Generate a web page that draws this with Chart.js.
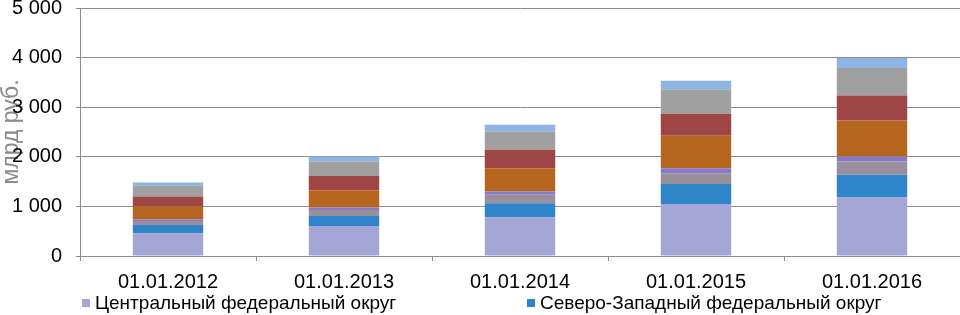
<!DOCTYPE html>
<html><head><meta charset="utf-8">
<script src="https://cdn.jsdelivr.net/npm/chart.js@4"></script>
<style>
html,body{margin:0;padding:0;background:#fff;}
#wrap{position:relative;width:960px;height:315px;overflow:hidden;}
#c{position:absolute;left:0;top:0;}
.lg{position:absolute;top:292px;font:19px "Liberation Sans",Arial,sans-serif;color:#000;white-space:nowrap;line-height:22px}
.lg i{display:inline-block;width:8px;height:8px;margin-right:5px;vertical-align:middle;position:relative;top:-1px}
</style></head><body>
<div id="wrap"><canvas id="c" width="960" height="315"></canvas><div id="legend"></div></div>
<script>
const categories = ["01.01.2012", "01.01.2013", "01.01.2014", "01.01.2015", "01.01.2016"];
const seriesNames = [
  "Центральный федеральный округ",
  "Северо-Западный федеральный округ",
  "Южный федеральный округ",
  "Северо-Кавказский федеральный округ",
  "Приволжский федеральный округ",
  "Уральский федеральный округ",
  "Сибирский федеральный округ",
  "Дальневосточный федеральный округ"
];
const central      = [459, 606, 781, 1050, 1178];
const northWest    = [168, 202, 283, 404, 458];
const south        = [80, 120, 170, 216, 269];
const northCauc    = [35, 48, 66, 101, 101];
const volga        = [255, 343, 471, 653, 727];
const ural         = [202, 296, 370, 444, 505];
const siberia      = [216, 289, 370, 485, 552];
const farEast      = [67, 100, 135, 182, 202];
const yTicks = [0, 1000, 2000, 3000, 4000, 5000];
const yTitle = "млрд руб.";

const seriesValues = [central, northWest, south, northCauc, volga, ural, siberia, farEast];
const colors = ["#A5A5D6", "#2E86C8", "#9A8F9C", "#8878C8", "#B5651E", "#9E4545", "#A0A0A0", "#8DB4E2"];
const legendShown = 2;
const legendLeft = [82, 527];

const fontFam = '"Liberation Sans", Arial, sans-serif';
const gridColor = '#8c8c8c';

new Chart(document.getElementById('c'), {
  type: 'bar',
  data: {
    labels: categories,
    datasets: seriesValues.map((vals, i) => ({
      label: seriesNames[i],
      data: vals,
      backgroundColor: colors[i],
      borderWidth: 0,
      stack: 's',
      barPercentage: 0.4,
      categoryPercentage: 1.0
    }))
  },
  options: {
    responsive: false,
    animation: false,
    layout: { padding: { top: 8, bottom: 14, left: 0, right: 0 } },
    plugins: { legend: { display: false }, tooltip: { enabled: false } },
    scales: {
      x: {
        stacked: true,
        grid: { offset: true, drawOnChartArea: false, drawTicks: true, tickLength: 5, color: gridColor },
        border: { display: true, color: gridColor },
        ticks: { color: '#000', font: { family: fontFam, size: 20 }, padding: 9, maxRotation: 0 },
        afterFit: s => { s.height = 45; s.paddingLeft = 0; s.paddingRight = 0; }
      },
      y: {
        stacked: true,
        min: yTicks[0], max: yTicks[yTicks.length - 1],
        afterBuildTicks: s => { s.ticks = yTicks.map(v => ({ value: v })); },
        grid: { color: gridColor, tickLength: 4 },
        border: { display: true, color: gridColor },
        ticks: {
          color: '#000', font: { family: fontFam, size: 20 }, padding: 14,
          callback: v => String(v).replace(/\B(?=(\d{3})+(?!\d))/g, '\u00a0')
        },
        title: { display: true, text: yTitle, color: '#8a8a8a', font: { family: fontFam, size: 23, lineHeight: 1 }, padding: { top: 0, bottom: 0 } },
        afterFit: s => { s.width = 80; s.paddingTop = 0; s.paddingBottom = 0; }
      }
    }
  }
});

const lg = document.getElementById('legend');
for (let i = 0; i < legendShown; i++) {
  const d = document.createElement('div');
  d.className = 'lg';
  d.style.left = legendLeft[i] + 'px';
  d.innerHTML = '<i style="background:' + colors[i] + '"></i>' + seriesNames[i];
  lg.appendChild(d);
}
</script>
</body></html>
